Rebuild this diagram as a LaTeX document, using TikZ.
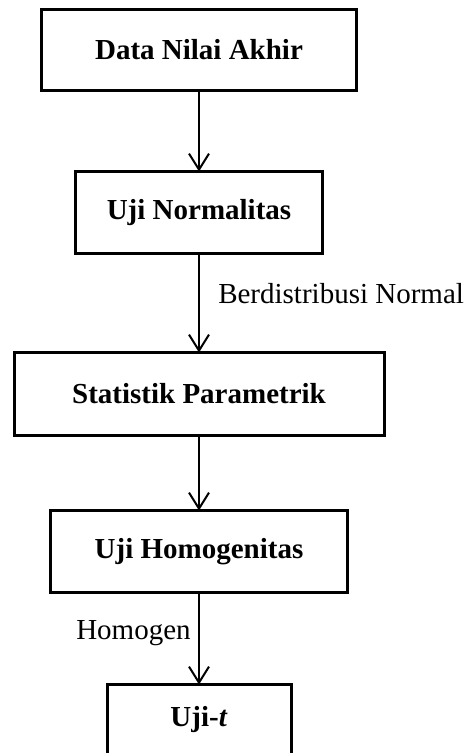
\documentclass[tikz,border=0pt]{standalone}
\usepackage{fontspec}
\setmainfont{Liberation Serif}
\usetikzlibrary{arrows.meta}
\begin{document}
\begin{tikzpicture}[x=0.75pt,y=-0.75pt,
  boxnode/.style={draw,line width=2.25pt,inner sep=0pt,outer sep=0pt,
    font=\fontsize{21.75}{26}\selectfont\bfseries},
  flow/.style={line width=1.5pt,-{Straight Barb[length=12pt,width=15pt,line width=1.5pt]}},
  lbl/.style={inner sep=0pt,anchor=base west,font=\fontsize{21.75}{26}\selectfont}]
\useasboundingbox (0,0) rectangle (466,753);
\node[boxnode,minimum width={315*0.75pt},minimum height={81*0.75pt}] (a) at (199,50) {Data Nilai Akhir};
\node[boxnode,minimum width={247*0.75pt},minimum height={82*0.75pt}] (b) at (199,212.5) {Uji Normalitas};
\node[boxnode,minimum width={370*0.75pt},minimum height={83*0.75pt}] (c) at (199,394) {Statistik Parametrik};
\node[boxnode,minimum width={297*0.75pt},minimum height={82*0.75pt}] (d) at (199,551.5) {Uji Homogenitas};
\node[boxnode,minimum width={184*0.75pt},minimum height={70*0.75pt}] (e) at (199,719.5) {Uji-\textit{t}};
\draw[flow] (a.south) -- (b.north);
\draw[flow] (b.south) -- (c.north);
\draw[flow] (c.south) -- (d.north);
\draw[flow] (d.south) -- (e.north);
\node[lbl] (l1) at (218,303) {Berdistribusi Normal};
\node[lbl] (l2) at (76,639) {Homogen};
\end{tikzpicture}
\end{document}
